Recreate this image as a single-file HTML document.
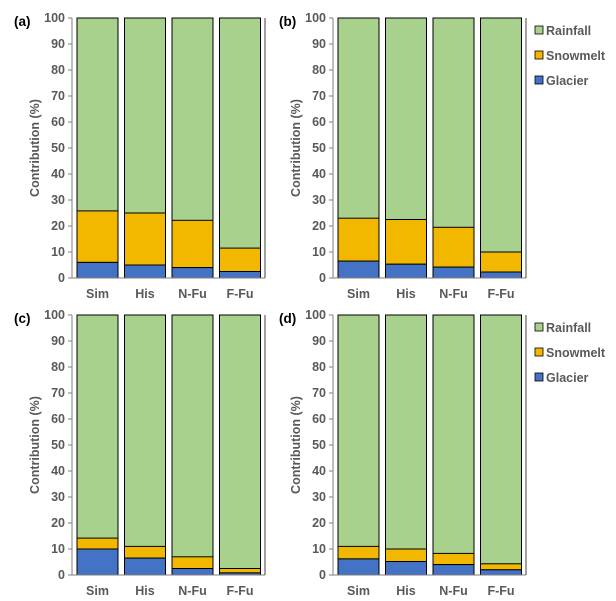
<!DOCTYPE html><html><head><style>body{margin:0;background:#fff}svg{display:block}text{font-family:"Liberation Sans",sans-serif;font-weight:bold;fill:#595959;font-size:12.5px}</style></head><body>
<svg width="616" height="601" viewBox="0 0 616 601">
<defs>
<g id="ax" stroke="#7f7f7f" stroke-width="1">
<line x1="0" y1="0" x2="0" y2="260"/><line x1="0" y1="260" x2="193" y2="260"/><line x1="193" y1="0" x2="193" y2="260" stroke="#404040"/>
<line x1="-4" y1="0" x2="0" y2="0"/><line x1="-4" y1="26" x2="0" y2="26"/><line x1="-4" y1="52" x2="0" y2="52"/><line x1="-4" y1="78" x2="0" y2="78"/><line x1="-4" y1="104" x2="0" y2="104"/><line x1="-4" y1="130" x2="0" y2="130"/><line x1="-4" y1="156" x2="0" y2="156"/><line x1="-4" y1="182" x2="0" y2="182"/><line x1="-4" y1="208" x2="0" y2="208"/><line x1="-4" y1="234" x2="0" y2="234"/><line x1="-4" y1="260" x2="0" y2="260"/>
</g>
</defs>

<!-- (a) -->
<g transform="translate(72,18)">
<g stroke="#000" stroke-width="1">
<rect x="5" y="0" width="41" height="260" fill="#a9d18e"/><rect x="5" y="192.9" width="41" height="51.5" fill="#f2b800"/><rect x="5" y="244.4" width="41" height="15.6" fill="#4472c4"/>
<rect x="52.5" y="0" width="41" height="260" fill="#a9d18e"/><rect x="52.5" y="195" width="41" height="52" fill="#f2b800"/><rect x="52.5" y="247" width="41" height="13" fill="#4472c4"/>
<rect x="100" y="0" width="41" height="260" fill="#a9d18e"/><rect x="100" y="202.3" width="41" height="47.3" fill="#f2b800"/><rect x="100" y="249.6" width="41" height="10.4" fill="#4472c4"/>
<rect x="147.5" y="0" width="41" height="260" fill="#a9d18e"/><rect x="147.5" y="230.1" width="41" height="23.4" fill="#f2b800"/><rect x="147.5" y="253.5" width="41" height="6.5" fill="#4472c4"/>
</g>
<use href="#ax"/>
<g text-anchor="end"><text x="-7" y="4">100</text><text x="-7" y="30">90</text><text x="-7" y="56">80</text><text x="-7" y="82">70</text><text x="-7" y="108">60</text><text x="-7" y="134">50</text><text x="-7" y="160">40</text><text x="-7" y="186">30</text><text x="-7" y="212">20</text><text x="-7" y="238">10</text><text x="-7" y="264">0</text></g>
<g text-anchor="middle"><text x="25.5" y="280">Sim</text><text x="73" y="280">His</text><text x="120.5" y="280">N-Fu</text><text x="168" y="280">F-Fu</text></g>
<text transform="translate(-33,130) rotate(-90)" text-anchor="middle">Contribution (%)</text>
<text x="-58" y="8" style="fill:#000;font-size:13.5px">(a)</text>
</g>

<!-- (b) -->
<g transform="translate(333,18)">
<g stroke="#000" stroke-width="1">
<rect x="5" y="0" width="41" height="260" fill="#a9d18e"/><rect x="5" y="200.2" width="41" height="42.9" fill="#f2b800"/><rect x="5" y="243.1" width="41" height="16.9" fill="#4472c4"/>
<rect x="52.5" y="0" width="41" height="260" fill="#a9d18e"/><rect x="52.5" y="201.5" width="41" height="44.7" fill="#f2b800"/><rect x="52.5" y="246.2" width="41" height="13.8" fill="#4472c4"/>
<rect x="100" y="0" width="41" height="260" fill="#a9d18e"/><rect x="100" y="209.3" width="41" height="39.8" fill="#f2b800"/><rect x="100" y="249.1" width="41" height="10.9" fill="#4472c4"/>
<rect x="147.5" y="0" width="41" height="260" fill="#a9d18e"/><rect x="147.5" y="234" width="41" height="20" fill="#f2b800"/><rect x="147.5" y="254" width="41" height="6" fill="#4472c4"/>
</g>
<use href="#ax"/>
<g text-anchor="end"><text x="-7" y="4">100</text><text x="-7" y="30">90</text><text x="-7" y="56">80</text><text x="-7" y="82">70</text><text x="-7" y="108">60</text><text x="-7" y="134">50</text><text x="-7" y="160">40</text><text x="-7" y="186">30</text><text x="-7" y="212">20</text><text x="-7" y="238">10</text><text x="-7" y="264">0</text></g>
<g text-anchor="middle"><text x="25.5" y="280">Sim</text><text x="73" y="280">His</text><text x="120.5" y="280">N-Fu</text><text x="168" y="280">F-Fu</text></g>
<text transform="translate(-33,130) rotate(-90)" text-anchor="middle">Contribution (%)</text>
<text x="-54" y="8" style="fill:#000;font-size:13.5px">(b)</text>
<g stroke="#000" stroke-width="0.8"><rect x="202" y="8" width="8" height="8" fill="#a9d18e"/><rect x="202" y="33" width="8" height="8" fill="#f2b800"/><rect x="202" y="58" width="8" height="8" fill="#4472c4"/></g>
<text x="213" y="17">Rainfall</text><text x="213" y="42">Snowmelt</text><text x="213" y="67">Glacier</text>
</g>

<!-- (c) -->
<g transform="translate(72,315)">
<g stroke="#000" stroke-width="1">
<rect x="5" y="0" width="41" height="260" fill="#a9d18e"/><rect x="5" y="223.1" width="41" height="10.9" fill="#f2b800"/><rect x="5" y="234" width="41" height="26" fill="#4472c4"/>
<rect x="52.5" y="0" width="41" height="260" fill="#a9d18e"/><rect x="52.5" y="231.4" width="41" height="11.7" fill="#f2b800"/><rect x="52.5" y="243.1" width="41" height="16.9" fill="#4472c4"/>
<rect x="100" y="0" width="41" height="260" fill="#a9d18e"/><rect x="100" y="241.8" width="41" height="11.7" fill="#f2b800"/><rect x="100" y="253.5" width="41" height="6.5" fill="#4472c4"/>
<rect x="147.5" y="0" width="41" height="260" fill="#a9d18e"/><rect x="147.5" y="253.5" width="41" height="4.4" fill="#f2b800"/><rect x="147.5" y="257.9" width="41" height="2.1" fill="#4472c4"/>
</g>
<use href="#ax"/>
<g text-anchor="end"><text x="-7" y="4">100</text><text x="-7" y="30">90</text><text x="-7" y="56">80</text><text x="-7" y="82">70</text><text x="-7" y="108">60</text><text x="-7" y="134">50</text><text x="-7" y="160">40</text><text x="-7" y="186">30</text><text x="-7" y="212">20</text><text x="-7" y="238">10</text><text x="-7" y="264">0</text></g>
<g text-anchor="middle"><text x="25.5" y="280">Sim</text><text x="73" y="280">His</text><text x="120.5" y="280">N-Fu</text><text x="168" y="280">F-Fu</text></g>
<text transform="translate(-33,130) rotate(-90)" text-anchor="middle">Contribution (%)</text>
<text x="-58" y="8" style="fill:#000;font-size:13.5px">(c)</text>
</g>

<!-- (d) -->
<g transform="translate(333,315)">
<g stroke="#000" stroke-width="1">
<rect x="5" y="0" width="41" height="260" fill="#a9d18e"/><rect x="5" y="231.4" width="41" height="12.5" fill="#f2b800"/><rect x="5" y="243.9" width="41" height="16.1" fill="#4472c4"/>
<rect x="52.5" y="0" width="41" height="260" fill="#a9d18e"/><rect x="52.5" y="234" width="41" height="12.5" fill="#f2b800"/><rect x="52.5" y="246.5" width="41" height="13.5" fill="#4472c4"/>
<rect x="100" y="0" width="41" height="260" fill="#a9d18e"/><rect x="100" y="238.4" width="41" height="11.2" fill="#f2b800"/><rect x="100" y="249.6" width="41" height="10.4" fill="#4472c4"/>
<rect x="147.5" y="0" width="41" height="260" fill="#a9d18e"/><rect x="147.5" y="248.8" width="41" height="6" fill="#f2b800"/><rect x="147.5" y="254.8" width="41" height="5.2" fill="#4472c4"/>
</g>
<use href="#ax"/>
<g text-anchor="end"><text x="-7" y="4">100</text><text x="-7" y="30">90</text><text x="-7" y="56">80</text><text x="-7" y="82">70</text><text x="-7" y="108">60</text><text x="-7" y="134">50</text><text x="-7" y="160">40</text><text x="-7" y="186">30</text><text x="-7" y="212">20</text><text x="-7" y="238">10</text><text x="-7" y="264">0</text></g>
<g text-anchor="middle"><text x="25.5" y="280">Sim</text><text x="73" y="280">His</text><text x="120.5" y="280">N-Fu</text><text x="168" y="280">F-Fu</text></g>
<text transform="translate(-33,130) rotate(-90)" text-anchor="middle">Contribution (%)</text>
<text x="-54" y="8" style="fill:#000;font-size:13.5px">(d)</text>
<g stroke="#000" stroke-width="0.8"><rect x="202" y="8" width="8" height="8" fill="#a9d18e"/><rect x="202" y="33" width="8" height="8" fill="#f2b800"/><rect x="202" y="58" width="8" height="8" fill="#4472c4"/></g>
<text x="213" y="17">Rainfall</text><text x="213" y="42">Snowmelt</text><text x="213" y="67">Glacier</text>
</g>
</svg>
</body></html>
